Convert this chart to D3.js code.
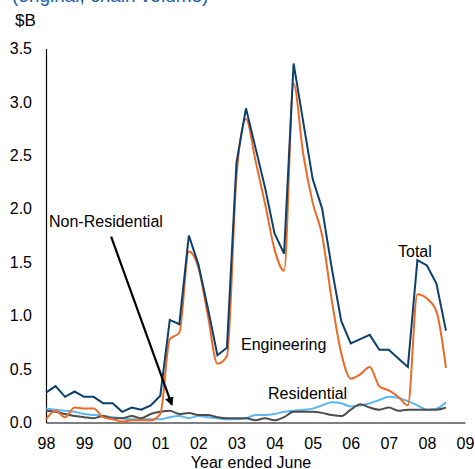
<!DOCTYPE html>
<html>
<head>
<meta charset="utf-8">
<script src="https://cdn.jsdelivr.net/npm/d3@7"></script>
<style>
  html, body { margin: 0; padding: 0; background: #fff; }
  svg { display: block; }
  text { font-family: "Liberation Sans", Arial, sans-serif; }
</style>
</head>
<body>
<svg id="chart" width="475" height="469"></svg>
<script>
// Quarterly observations starting June 1998 (year ended June)
const startYear = 1998;
const total = [0.28, 0.34, 0.24, 0.29, 0.24, 0.24, 0.18, 0.18, 0.10, 0.14, 0.12, 0.16, 0.25,
  0.96, 0.92, 1.75, 1.48, 1.07, 0.63, 0.70, 2.43, 2.94, 2.57, 2.20, 1.77, 1.58, 3.36, 2.82,
  2.28, 2.00, 1.45, 0.95, 0.74, 0.78, 0.82, 0.68, 0.68, 0.60, 0.52, 1.52, 1.47, 1.30, 0.86];
const engineering = [0.03, 0.11, 0.05, 0.14, 0.13, 0.13, 0.05, 0.03, 0.01, 0.02, 0.02, 0.02, 0.08,
  0.78, 0.84, 1.60, 1.45, 1.00, 0.55, 0.62, 2.30, 2.84, 2.45, 2.05, 1.62, 1.42, 3.17, 2.52,
  2.06, 1.75, 1.15, 0.65, 0.41, 0.45, 0.52, 0.34, 0.30, 0.24, 0.16, 1.20, 1.16, 1.04, 0.51];
const residential = [0.13, 0.12, 0.11, 0.10, 0.08, 0.07, 0.06, 0.05, 0.04, 0.03, 0.03, 0.03, 0.03,
  0.05, 0.06, 0.04, 0.06, 0.05, 0.04, 0.03, 0.03, 0.04, 0.07, 0.07, 0.08, 0.10, 0.11, 0.12,
  0.13, 0.16, 0.19, 0.18, 0.15, 0.16, 0.18, 0.21, 0.24, 0.23, 0.20, 0.16, 0.12, 0.13, 0.19];
const nonResidential = [0.11, 0.10, 0.08, 0.06, 0.05, 0.04, 0.06, 0.04, 0.04, 0.06, 0.04, 0.08, 0.10,
  0.11, 0.08, 0.09, 0.07, 0.07, 0.05, 0.04, 0.04, 0.04, 0.02, 0.04, 0.02, 0.05, 0.10, 0.10,
  0.10, 0.09, 0.07, 0.06, 0.12, 0.17, 0.14, 0.12, 0.14, 0.11, 0.12, 0.12, 0.12, 0.12, 0.14];
const xTickYears = [1998, 1999, 2000, 2001, 2002, 2003, 2004, 2005, 2006, 2007, 2008, 2009];
const xTickLabels = ["98", "99", "00", "01", "02", "03", "04", "05", "06", "07", "08", "09"];
const yTicks = [0, 0.5, 1.0, 1.5, 2.0, 2.5, 3.0, 3.5];

const svg = d3.select("#chart");
const x = d3.scaleLinear().domain([1998, 2009]).range([46, 465]);
const y = d3.scaleLinear().domain([0, 3.5]).range([422.5, 48.5]);
const t = i => startYear + i * 0.25;

// Title (clipped at the top)
svg.append("text").attr("x", 12).attr("y", 1.5)
  .attr("font-size", 19).attr("fill", "#1c5da3")
  .text("(original, chain volume)");
svg.append("text").attr("x", 15).attr("y", 26)
  .attr("font-size", 17).attr("fill", "#000").text("$B");

// Y axis
const yAxis = svg.append("g").attr("transform", "translate(46,0)")
  .call(d3.axisLeft(y).tickValues(yTicks).tickFormat(d3.format(".1f")).tickSize(0).tickPadding(14));
yAxis.select(".domain").attr("stroke", "#000").attr("stroke-width", 1.2);
yAxis.selectAll("text").attr("font-size", 16).attr("fill", "#000")
  .attr("font-family", "'Liberation Sans', Arial, sans-serif");

// X axis
const xAxis = svg.append("g").attr("transform", "translate(0,422.5)")
  .call(d3.axisBottom(x).tickValues(xTickYears).tickFormat((d, i) => xTickLabels[i]).tickSize(0).tickPadding(15));
xAxis.select(".domain").attr("stroke", "#000").attr("stroke-width", 1.2);
xAxis.selectAll("text").attr("font-size", 16).attr("fill", "#000")
  .attr("font-family", "'Liberation Sans', Arial, sans-serif");

svg.append("text").attr("x", 251).attr("y", 468).attr("text-anchor", "middle")
  .attr("font-size", 16).attr("fill", "#000").text("Year ended June");

// Lines
const lineLinear = d3.line().x((d, i) => x(t(i))).y(d => y(d));
const lineSmooth = d3.line().x((d, i) => x(t(i))).y(d => y(d)).curve(d3.curveMonotoneX);

svg.append("path").datum(residential).attr("d", lineSmooth)
  .attr("fill", "none").attr("stroke", "#5cb6f2").attr("stroke-width", 2);
svg.append("path").datum(nonResidential).attr("d", lineSmooth)
  .attr("fill", "none").attr("stroke", "#4d4d4d").attr("stroke-width", 2);
svg.append("path").datum(engineering).attr("d", lineSmooth)
  .attr("fill", "none").attr("stroke", "#ec6a26").attr("stroke-width", 2);
svg.append("path").datum(total).attr("d", lineLinear)
  .attr("fill", "none").attr("stroke", "#0c3f6c").attr("stroke-width", 2);

// Annotations
svg.append("text").attr("x", 49).attr("y", 227).attr("font-size", 16).text("Non-Residential");
svg.append("text").attr("x", 398).attr("y", 257).attr("font-size", 16).text("Total");
svg.append("text").attr("x", 241).attr("y", 350).attr("font-size", 16).text("Engineering");
svg.append("text").attr("x", 268).attr("y", 399).attr("font-size", 16).text("Residential");

// Arrow
svg.append("defs").append("marker")
  .attr("id", "arrow").attr("viewBox", "0 0 10 10").attr("refX", 8).attr("refY", 5)
  .attr("markerWidth", 4).attr("markerHeight", 4).attr("orient", "auto")
  .append("path").attr("d", "M0,0 L10,5 L0,10 z").attr("fill", "#000");
svg.append("line")
  .attr("x1", x(1999.71)).attr("y1", y(1.74))
  .attr("x2", x(2001.30)).attr("y2", y(0.17))
  .attr("stroke", "#000").attr("stroke-width", 2.2).attr("marker-end", "url(#arrow)");
</script>
</body>
</html>
